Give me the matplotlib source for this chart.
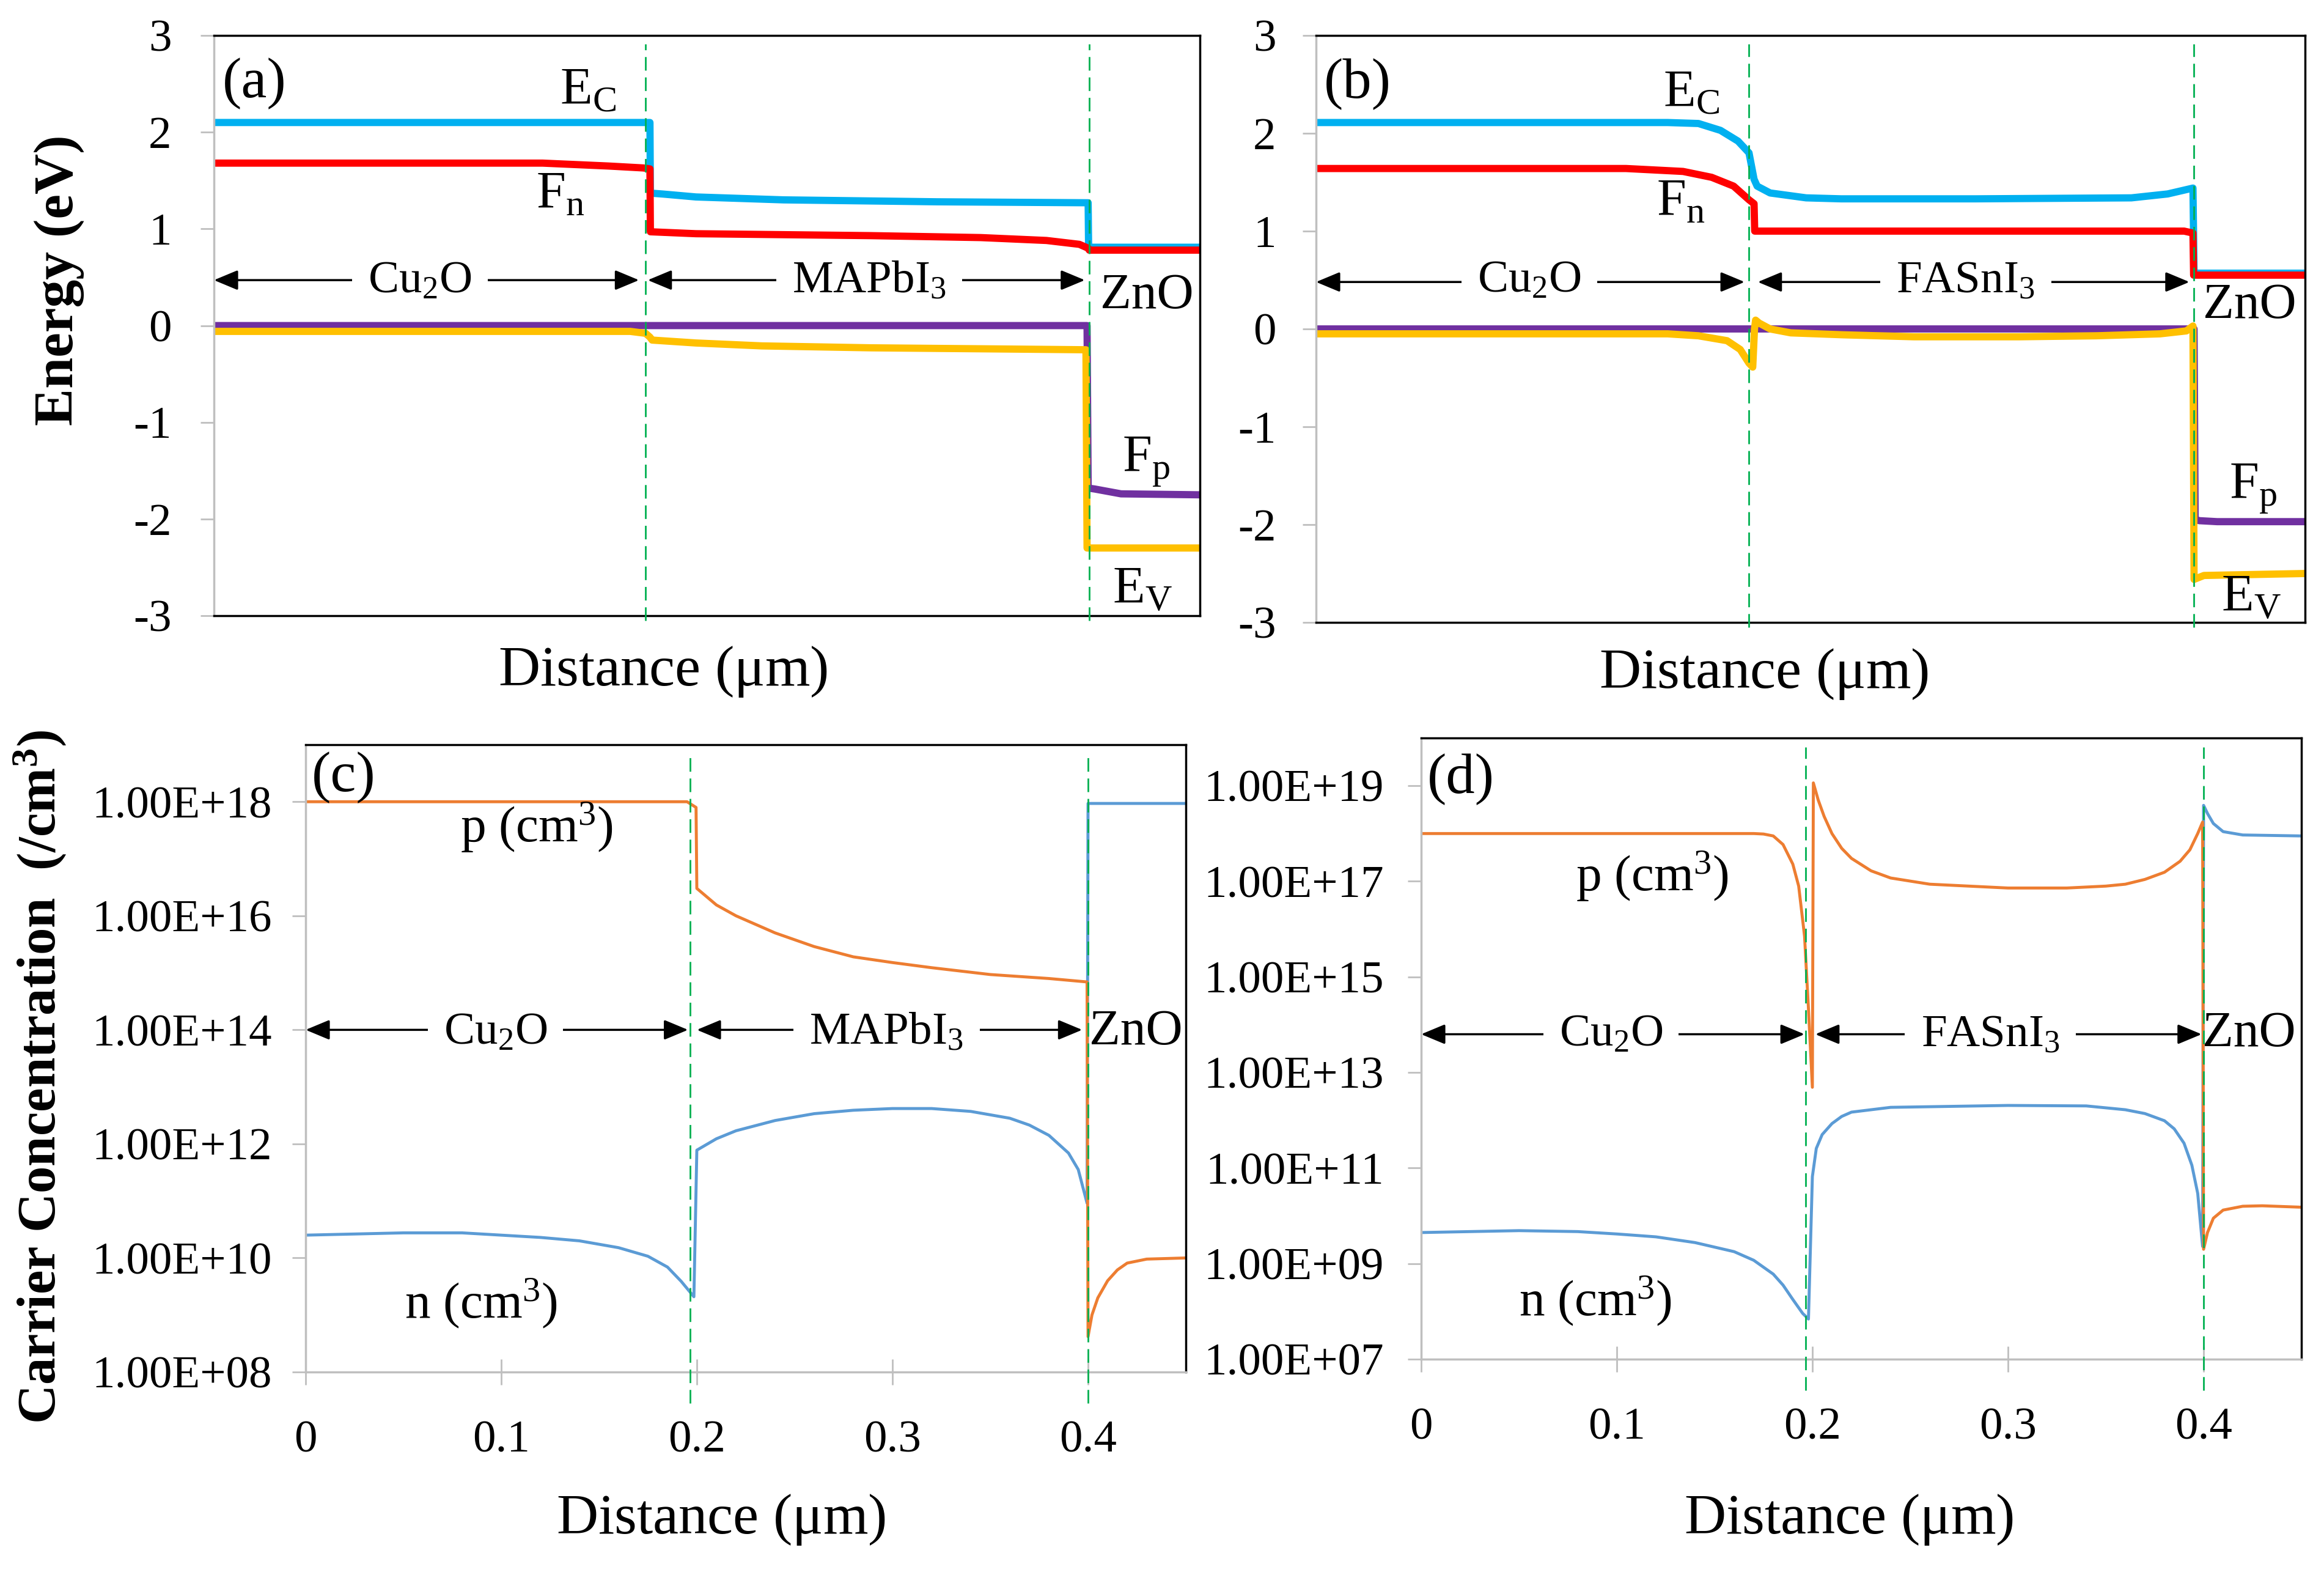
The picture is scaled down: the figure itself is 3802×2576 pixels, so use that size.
import numpy as np
import matplotlib.pyplot as plt
from matplotlib.ticker import FixedLocator, FixedFormatter, NullLocator
import matplotlib.transforms as mtransforms

plt.rcParams['font.family'] = 'Liberation Serif'
plt.rcParams['mathtext.fontset'] = 'custom'
plt.rcParams['mathtext.rm'] = 'Liberation Serif'
plt.rcParams['mathtext.it'] = 'Liberation Serif:italic'
plt.rcParams['mathtext.bf'] = 'Liberation Serif:bold'
plt.rcParams['axes.unicode_minus'] = False

# ---------------- data ----------------
# (a) Cu2O / MAPbI3 / ZnO band diagram (eV)
xa_ec = [0, 0.199, 0.1992, 0.205, 0.22, 0.26, 0.33, 0.399, 0.3992, 0.45]
ya_ec = [2.10, 2.10, 1.37, 1.36, 1.33, 1.30, 1.28, 1.27, 0.81, 0.81]
xa_fn = [0, 0.15, 0.16, 0.18, 0.196, 0.199, 0.1992, 0.22, 0.30, 0.35, 0.38, 0.395, 0.399, 0.3995, 0.45]
ya_fn = [1.68, 1.68, 1.67, 1.65, 1.63, 1.62, 0.97, 0.95, 0.93, 0.91, 0.88, 0.84, 0.80, 0.78, 0.78]
xa_fp = [0, 0.3985, 0.399, 0.402, 0.414, 0.45]
ya_fp = [0.0, 0.0, -1.68, -1.69, -1.74, -1.75]
xa_ev = [0, 0.19, 0.197, 0.199, 0.2, 0.22, 0.25, 0.3, 0.35, 0.398, 0.3985, 0.45]
ya_ev = [-0.06, -0.06, -0.08, -0.12, -0.15, -0.18, -0.21, -0.23, -0.24, -0.25, -2.30, -2.30]

# (b) Cu2O / FASnI3 / ZnO band diagram (eV)
xb_ec = [0, 0.16, 0.174, 0.184, 0.192, 0.197, 0.1993, 0.2007, 0.2066, 0.223, 0.239, 0.30,
         0.371, 0.3875, 0.399, 0.3995, 0.45]
yb_ec = [2.11, 2.11, 2.10, 2.03, 1.92, 1.80, 1.53, 1.46, 1.39, 1.34, 1.33, 1.33,
         1.34, 1.38, 1.44, 0.57, 0.57]
xb_fn = [0, 0.13, 0.141, 0.167, 0.18, 0.19, 0.197, 0.1993, 0.1996, 0.395, 0.399, 0.3993, 0.45]
yb_fn = [1.64, 1.64, 1.64, 1.61, 1.55, 1.46, 1.32, 1.28, 1.00, 1.00, 0.98, 0.55, 0.55]
xb_fp = [0, 0.3995, 0.4, 0.402, 0.41, 0.45]
yb_fp = [0.0, 0.0, -1.95, -1.96, -1.97, -1.97]
xb_ev = [0, 0.16, 0.174, 0.187, 0.193, 0.197, 0.1987, 0.1995, 0.2, 0.2016, 0.2066, 0.216,
         0.24, 0.272, 0.32, 0.355, 0.384, 0.396, 0.399, 0.3995, 0.404, 0.45]
yb_ev = [-0.05, -0.05, -0.07, -0.12, -0.21, -0.35, -0.39, 0.0, 0.09, 0.06, 0.0, -0.04,
         -0.06, -0.08, -0.08, -0.07, -0.05, -0.02, 0.03, -2.56, -2.52, -2.50]

# (c) carrier concentration, MAPbI3 device (log10 /cm3)
xc_p = [0, 0.195, 0.1996, 0.2, 0.21, 0.22, 0.24, 0.26, 0.28, 0.30, 0.32, 0.35, 0.38,
        0.3995, 0.4, 0.402, 0.405, 0.41, 0.415, 0.42, 0.43, 0.45]
logp_c = [18.0, 18.0, 17.9, 16.48, 16.19, 16.0, 15.7, 15.46, 15.28, 15.18, 15.09, 14.97, 14.9,
          14.84, 8.62, 9.0, 9.3, 9.6, 9.79, 9.91, 9.98, 10.0]
xc_n = [0, 0.05, 0.08, 0.1, 0.12, 0.14, 0.16, 0.175, 0.185, 0.192, 0.1985, 0.2, 0.21, 0.22,
        0.24, 0.26, 0.28, 0.30, 0.32, 0.34, 0.36, 0.37, 0.38, 0.39, 0.395, 0.3995, 0.4, 0.45]
logn_c = [10.40, 10.44, 10.44, 10.40, 10.36, 10.30, 10.18, 10.03, 9.84, 9.59, 9.32, 11.89, 12.09,
          12.23, 12.41, 12.53, 12.59, 12.62, 12.62, 12.57, 12.45, 12.33, 12.15, 11.84, 11.55,
          10.96, 17.97, 17.97]

# (d) carrier concentration, FASnI3 device (log10 /cm3)
xd_p = [0, 0.17, 0.175, 0.18, 0.185, 0.19, 0.193, 0.196, 0.198, 0.2, 0.2005, 0.203, 0.206,
        0.21, 0.215, 0.22, 0.23, 0.24, 0.26, 0.28, 0.30, 0.33, 0.35, 0.36, 0.37, 0.38, 0.388,
        0.393, 0.397, 0.3995, 0.4, 0.402, 0.405, 0.41, 0.42, 0.43, 0.45]
logp_d = [18.0, 18.0, 17.99, 17.95, 17.77, 17.36, 16.9, 15.85, 14.33, 12.69, 19.06, 18.7, 18.36,
          18.0, 17.69, 17.48, 17.22, 17.07, 16.94, 16.9, 16.86, 16.86, 16.9, 16.94, 17.04, 17.19,
          17.42, 17.66, 18.0, 18.24, 9.30, 9.65, 9.95, 10.12, 10.2, 10.21, 10.18]
xd_n = [0, 0.05, 0.08, 0.1, 0.12, 0.14, 0.16, 0.17, 0.18, 0.185, 0.19, 0.195, 0.198, 0.2,
        0.202, 0.205, 0.21, 0.215, 0.22, 0.24, 0.30, 0.34, 0.36, 0.37, 0.38, 0.385, 0.39,
        0.394, 0.397, 0.3995, 0.4, 0.402, 0.405, 0.41, 0.42, 0.45]
logn_d = [9.65, 9.69, 9.67, 9.62, 9.56, 9.44, 9.25, 9.07, 8.78, 8.55, 8.25, 7.96, 7.84, 10.82,
          11.41, 11.7, 11.93, 12.08, 12.17, 12.27, 12.31, 12.30, 12.22, 12.14, 11.99, 11.82,
          11.52, 11.06, 10.47, 9.36, 18.59, 18.42, 18.21, 18.04, 17.97, 17.95]

energy_ticks = [-3, -2, -1, 0, 1, 2, 3]
conc_ticks_c = [1e8, 1e10, 1e12, 1e14, 1e16, 1e18]
conc_ticks_d = [1e7, 1e9, 1e11, 1e13, 1e15, 1e17, 1e19]
dist_ticks = [0, 0.1, 0.2, 0.3, 0.4]
dist_labels = ['0', '0.1', '0.2', '0.3', '0.4']

# ---------------- styling ----------------
W, H = 3802, 2576
GREY = '#BFBFBF'
C_EC, C_FN, C_FP, C_EV = '#00B0F0', '#FF0000', '#7030A0', '#FFC000'
C_P, C_N = '#ED7D31', '#5B9BD5'
C_DASH = '#00B050'
TICK_FS = 54

fig = plt.figure(figsize=(W / 100, H / 100), dpi=100)


def px_axes(l, t, r, b):
    return fig.add_axes([l / W, 1 - b / H, (r - l) / W, (b - t) / H])


def style_axes(ax, bottom_grey, ypad):
    for s in ['top', 'right']:
        ax.spines[s].set_color('black')
        ax.spines[s].set_linewidth(2.5)
    ax.spines['left'].set_color(GREY)
    ax.spines['left'].set_linewidth(2.5)
    ax.spines['bottom'].set_color(GREY if bottom_grey else 'black')
    ax.spines['bottom'].set_linewidth(2.5)
    ax.tick_params(axis='y', direction='out', length=16, width=2, color=GREY,
                   labelsize=TICK_FS, pad=ypad)


def interfaces(ax, xs, lo):
    trans = mtransforms.blended_transform_factory(ax.transData, ax.transAxes)
    for x in xs:
        ax.plot([x, x], [lo, 0.985], transform=trans, color=C_DASH, lw=2,
                dashes=(8, 4), clip_on=False, zorder=5)


def layer_arrow(ax, x0, x1, y, label, xt, yt, fs=54):
    ax.annotate('', xy=(x0, y), xytext=(x1, y),
                arrowprops=dict(arrowstyle='<|-|>,head_length=0.6,head_width=0.25',
                                color='black', lw=2.5, shrinkA=0, shrinkB=0,
                                mutation_scale=40), zorder=3)
    ax.text(xt, yt, label, ha='center', va='baseline', fontsize=fs, zorder=4,
            bbox=dict(facecolor='white', edgecolor='none', boxstyle='square,pad=0.35'))


# ---------------- (a) ----------------
ax_a = px_axes(350, 58, 1963, 1007)
ax_a.plot(xa_ec, ya_ec, color=C_EC, lw=8.5)
ax_a.plot(xa_fn, ya_fn, color=C_FN, lw=8.5)
ax_a.plot(xa_fp, ya_fp, color=C_FP, lw=8.5)
ax_a.plot(xa_ev, ya_ev, color=C_EV, lw=8.5)
ax_a.set_xlim(0, 0.45)
ax_a.set_ylim(-3, 3)
ax_a.set_yticks(energy_ticks)
ax_a.set_xticks([])
style_axes(ax_a, False, 34)
interfaces(ax_a, [0.197, 0.3995], -0.008)
ax_a.text(0.004, 2.5, '(a)', fontsize=68, va='center', ha='left')
ax_a.text(0.158, 2.29, r'E$_{\mathrm{C}}$', fontsize=62)
ax_a.text(0.147, 1.22, r'F$_{\mathrm{n}}$', fontsize=62)
ax_a.text(0.4146, -1.51, r'F$_{\mathrm{p}}$', fontsize=62)
ax_a.text(0.410, -2.87, r'E$_{\mathrm{V}}$', fontsize=62)
ax_a.text(0.4045, 0.18, 'ZnO', fontsize=60)
layer_arrow(ax_a, 0.0, 0.194, 0.47, r'Cu$_2$O', 0.094, 0.34)
layer_arrow(ax_a, 0.198, 0.3975, 0.47, r'MAPbI$_3$', 0.299, 0.34)

# ---------------- (b) ----------------
ax_b = px_axes(2153, 58, 3771, 1018)
ax_b.plot(xb_ec, yb_ec, color=C_EC, lw=8.5)
ax_b.plot(xb_fn, yb_fn, color=C_FN, lw=8.5)
ax_b.plot(xb_fp, yb_fp, color=C_FP, lw=8.5)
ax_b.plot(xb_ev, yb_ev, color=C_EV, lw=8.5)
ax_b.set_xlim(0, 0.45)
ax_b.set_ylim(-3, 3)
ax_b.set_yticks(energy_ticks)
ax_b.set_xticks([])
style_axes(ax_b, False, 31)
interfaces(ax_b, [0.197, 0.3994], -0.008)
ax_b.text(0.0035, 2.5, '(b)', fontsize=68, va='center', ha='left')
ax_b.text(0.158, 2.27, r'E$_{\mathrm{C}}$', fontsize=62)
ax_b.text(0.155, 1.16, r'F$_{\mathrm{n}}$', fontsize=62)
ax_b.text(0.4155, -1.73, r'F$_{\mathrm{p}}$', fontsize=62)
ax_b.text(0.412, -2.88, r'E$_{\mathrm{V}}$', fontsize=62)
ax_b.text(0.4035, 0.11, 'ZnO', fontsize=60)
layer_arrow(ax_b, 0.0, 0.195, 0.48, r'Cu$_2$O', 0.097, 0.375)
layer_arrow(ax_b, 0.201, 0.3974, 0.48, r'FASnI$_3$', 0.2956, 0.375)

# ---------------- (c) ----------------
ax_c = px_axes(500, 1218, 1940, 2244)
ax_c.plot(xc_n, np.power(10.0, logn_c), color=C_N, lw=3.5)
ax_c.plot(xc_p, np.power(10.0, logp_c), color=C_P, lw=3.5)
ax_c.set_yscale('log')
ax_c.set_xlim(0, 0.45)
ax_c.set_ylim(1e8, 1e19)

# ---------------- (d) ----------------
ax_d = px_axes(2325, 1207, 3765, 2223)
ax_d.plot(xd_n, np.power(10.0, logn_d), color=C_N, lw=3.5)
ax_d.plot(xd_p, np.power(10.0, logp_d), color=C_P, lw=3.5)
ax_d.set_yscale('log')
ax_d.set_xlim(0, 0.45)
ax_d.set_ylim(1e7, 1e20)

for ax, ticks, pad in [(ax_c, conc_ticks_c, 24), (ax_d, conc_ticks_d, 28)]:
    ax.yaxis.set_major_locator(FixedLocator(ticks))
    ax.yaxis.set_major_formatter(FixedFormatter(['{:.2E}'.format(t) for t in ticks]))
    ax.yaxis.set_minor_locator(NullLocator())
    ax.xaxis.set_major_locator(FixedLocator(dist_ticks))
    ax.xaxis.set_major_formatter(FixedFormatter(dist_labels))
    style_axes(ax, True, pad)
    ax.tick_params(axis='x', direction='inout', length=30, width=2, color=GREY,
                   labelsize=TICK_FS, pad=42)
    interfaces(ax, [0.1965, 0.4], -0.05)

ax_c.text(0.003, 10 ** 18.42, '(c)', fontsize=68, va='center', ha='left')
ax_c.text(0.079, 10 ** 17.29, r'p (cm$^{3}$)', fontsize=60)
ax_c.text(0.0506, 10 ** 8.95, r'n (cm$^{3}$)', fontsize=60)
ax_c.text(0.4006, 10 ** 13.75, 'ZnO', fontsize=60)
layer_arrow(ax_c, 0.0, 0.1955, 1e14, r'Cu$_2$O', 0.097, 10 ** 13.75)
layer_arrow(ax_c, 0.2, 0.397, 1e14, r'MAPbI$_3$', 0.297, 10 ** 13.75)

ax_d.text(0.003, 10 ** 19.13, '(d)', fontsize=68, va='center', ha='left')
ax_d.text(0.079, 10 ** 16.8, r'p (cm$^{3}$)', fontsize=60)
ax_d.text(0.050, 10 ** 7.92, r'n (cm$^{3}$)', fontsize=60)
ax_d.text(0.3994, 10 ** 13.55, 'ZnO', fontsize=60)
layer_arrow(ax_d, 0.0, 0.196, 10 ** 13.8, r'Cu$_2$O', 0.097, 10 ** 13.55)
layer_arrow(ax_d, 0.2015, 0.399, 10 ** 13.8, r'FASnI$_3$', 0.291, 10 ** 13.55)

# ---------------- axis titles ----------------
for xc, yc in [(1085, 1099), (2886, 1103), (1180, 2486), (3025, 2486)]:
    fig.text(xc / W, 1 - yc / H, r'Distance ($\mathregular{\mu}$m)', fontsize=68,
             ha='center', va='center')
fig.text(97 / W, 1 - 458 / H, 'Energy (eV)', fontsize=66, fontweight='bold',
         rotation=90, ha='center', va='center')
fig.text(65 / W, 1 - 1761 / H, r'Carrier Concentration  (/cm$^{\mathbf{3}}$)', fontsize=64,
         fontweight='bold', rotation=90, ha='center', va='center')

fig.savefig('out.png', dpi=100)
